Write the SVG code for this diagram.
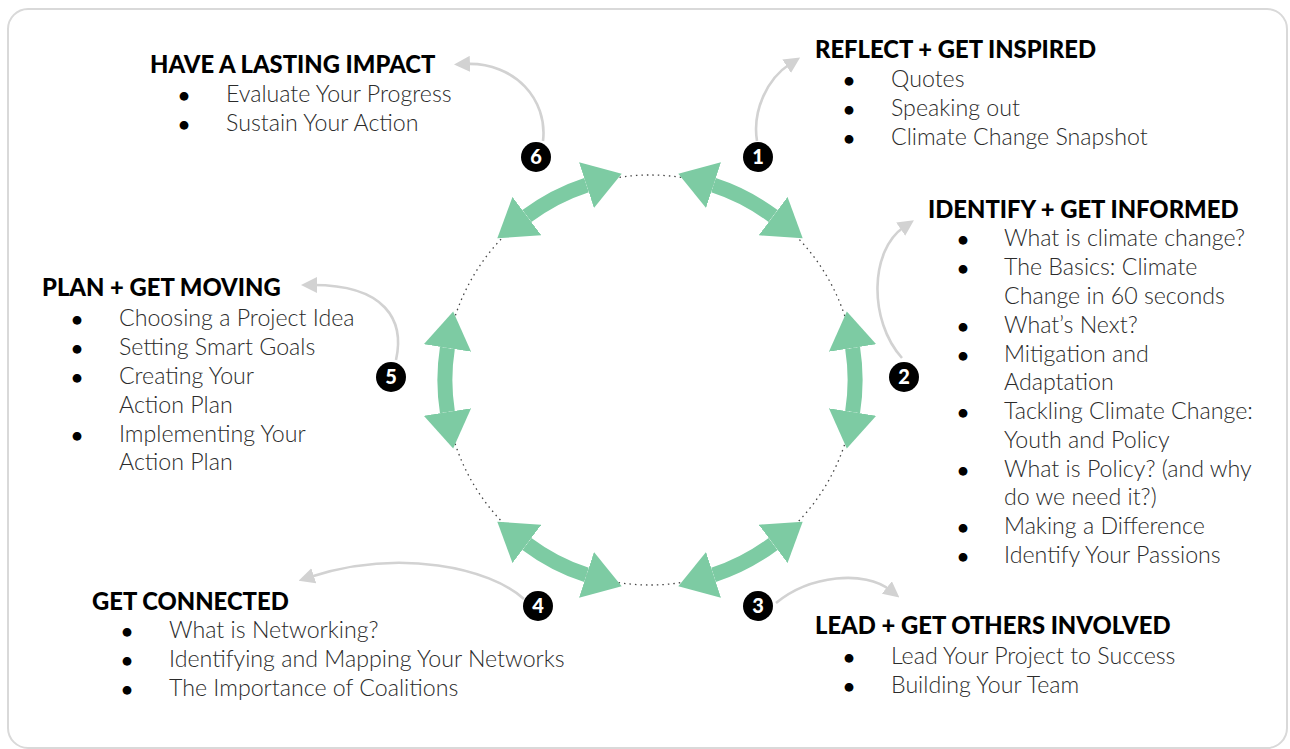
<svg xmlns="http://www.w3.org/2000/svg" width="1290" height="749" viewBox="0 0 1290 749">
<defs>
<style>
.h{font-family:Lato,"Noto Sans",sans-serif;font-weight:900;font-size:23.8px;fill:#000}
.b{font-family:Lato,"Noto Sans",sans-serif;font-weight:300;font-size:23.2px;fill:#2b2b2b}
.d{font-family:Lato,"Noto Sans",sans-serif;font-weight:900;font-size:19px;fill:#000;text-anchor:middle}
.g{fill:none;stroke:#7dcba3;stroke-width:15;marker-start:url(#gh);marker-end:url(#gh)}
.c{fill:none;stroke:#d2d2d2;stroke-width:2.6;marker-end:url(#ah)}
.n circle{fill:#000}
.n text{font-family:Lato,"Noto Sans",sans-serif;font-weight:900;font-size:20px;fill:#fff;text-anchor:middle}
</style>
<marker id="gh" markerUnits="userSpaceOnUse" markerWidth="38" markerHeight="48" refX="0" refY="24" orient="auto-start-reverse" viewBox="0 0 38 48">
<path d="M0,0 L37,24 L0,48 Z" fill="#7dcba3"/>
</marker>
<marker id="ah" markerUnits="userSpaceOnUse" markerWidth="16" markerHeight="16" refX="4" refY="8" orient="auto" viewBox="0 0 16 16">
<path d="M0,0 L16,8 L0,16 Z" fill="#d2d2d2"/>
</marker>
</defs>
<rect x="8" y="9" width="1279" height="739" rx="20" fill="#fff" stroke="#d9d9d9" stroke-width="2"/>

<g id="connectors">
<circle cx="650" cy="380" r="205" fill="none" stroke="#444" stroke-width="1.3" stroke-dasharray="1.5 4"/>
<path class="g" d="M713.5,185.1 A205,205 0 0 1 773.1,216.1"/>
<path class="g" d="M852.6,348.0 A205,205 0 0 1 852.6,412.0"/>
<path class="g" d="M773.1,543.9 A205,205 0 0 1 713.5,574.9"/>
<path class="g" d="M586.5,574.9 A205,205 0 0 1 526.9,543.9"/>
<path class="g" d="M447.4,412.0 A205,205 0 0 1 447.4,348.0"/>
<path class="g" d="M526.9,216.1 A205,205 0 0 1 586.5,185.1"/>
<path class="c" d="M757,141 C752,110 768,78 790,64"/>
<path class="c" d="M543,141 C548,100 515,62 466,64"/>
<path class="c" d="M902,358 C868,320 870,250 904,227"/>
<path class="c" d="M396,360 C405,320 385,285 313,285"/>
<path class="c" d="M524,599 C490,568 400,548 310,577"/>
<path class="c" d="M776,603 C810,575 865,570 890,590"/>
</g>

<g id="badge1" class="n"><circle cx="758" cy="157" r="15"/><text x="758" y="164">1</text></g>
<g id="badge2" class="n"><circle cx="904" cy="377" r="15"/><text x="904" y="384">2</text></g>
<g id="badge3" class="n"><circle cx="758" cy="606" r="15"/><text x="758" y="613">3</text></g>
<g id="badge4" class="n"><circle cx="538" cy="606" r="15"/><text x="538" y="613">4</text></g>
<g id="badge5" class="n"><circle cx="391" cy="377" r="15"/><text x="391" y="384">5</text></g>
<g id="badge6" class="n"><circle cx="536" cy="157" r="15"/><text x="536" y="164">6</text></g>

<g id="node1">
<text class="h" x="815" y="58">REFLECT + GET INSPIRED</text>
<text class="d" x="849" y="87">•</text><text class="b" x="891" y="87">Quotes</text>
<text class="d" x="849" y="116">•</text><text class="b" x="891" y="116">Speaking out</text>
<text class="d" x="849" y="145">•</text><text class="b" x="891" y="145">Climate Change Snapshot</text>
</g>

<g id="node2">
<text class="h" x="928" y="218">IDENTIFY + GET INFORMED</text>
<text class="d" x="963" y="246">•</text><text class="b" x="1004" y="246">What is climate change?</text>
<text class="d" x="963" y="275">•</text><text class="b" x="1004" y="275">The Basics: Climate</text>
<text class="b" x="1004" y="304">Change in 60 seconds</text>
<text class="d" x="963" y="333">•</text><text class="b" x="1004" y="333">What’s Next?</text>
<text class="d" x="963" y="362">•</text><text class="b" x="1004" y="362">Mitigation and</text>
<text class="b" x="1004" y="390">Adaptation</text>
<text class="d" x="963" y="419">•</text><text class="b" x="1004" y="419">Tackling Climate Change:</text>
<text class="b" x="1004" y="448">Youth and Policy</text>
<text class="d" x="963" y="477">•</text><text class="b" x="1004" y="477">What is Policy? (and why</text>
<text class="b" x="1004" y="505">do we need it?)</text>
<text class="d" x="963" y="534">•</text><text class="b" x="1004" y="534">Making a Difference</text>
<text class="d" x="963" y="563">•</text><text class="b" x="1004" y="563">Identify Your Passions</text>
</g>

<g id="node3">
<text class="h" x="815" y="634">LEAD + GET OTHERS INVOLVED</text>
<text class="d" x="849" y="664">•</text><text class="b" x="891" y="664">Lead Your Project to Success</text>
<text class="d" x="849" y="693">•</text><text class="b" x="891" y="693">Building Your Team</text>
</g>

<g id="node4">
<text class="h" x="92" y="610">GET CONNECTED</text>
<text class="d" x="127" y="638">•</text><text class="b" x="169" y="638">What is Networking?</text>
<text class="d" x="127" y="667">•</text><text class="b" x="169" y="667">Identifying and Mapping Your Networks</text>
<text class="d" x="127" y="696">•</text><text class="b" x="169" y="696">The Importance of Coalitions</text>
</g>

<g id="node5">
<text class="h" x="42" y="296">PLAN + GET MOVING</text>
<text class="d" x="77" y="326">•</text><text class="b" x="119" y="326">Choosing a Project Idea</text>
<text class="d" x="77" y="355">•</text><text class="b" x="119" y="355">Setting Smart Goals</text>
<text class="d" x="77" y="384">•</text><text class="b" x="119" y="384">Creating Your</text>
<text class="b" x="119" y="413">Action Plan</text>
<text class="d" x="77" y="442">•</text><text class="b" x="119" y="442">Implementing Your</text>
<text class="b" x="119" y="470">Action Plan</text>
</g>

<g id="node6">
<text class="h" x="150" y="73">HAVE A LASTING IMPACT</text>
<text class="d" x="184" y="102">•</text><text class="b" x="226" y="102">Evaluate Your Progress</text>
<text class="d" x="184" y="131">•</text><text class="b" x="226" y="131">Sustain Your Action</text>
</g>
</svg>
